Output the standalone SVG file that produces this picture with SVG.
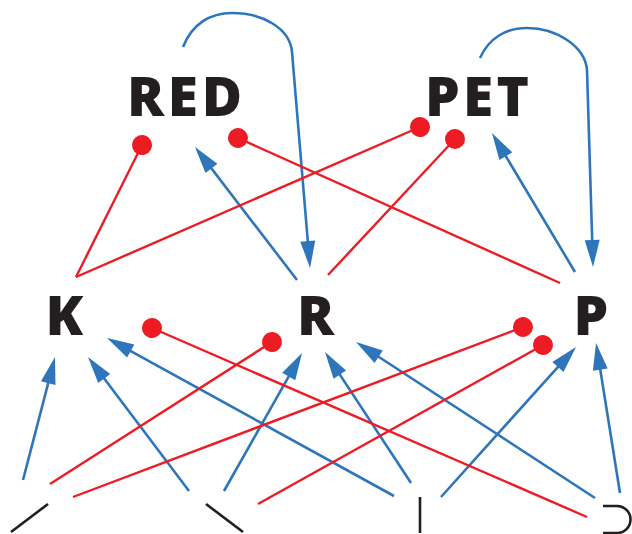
<svg xmlns="http://www.w3.org/2000/svg" width="632" height="534" viewBox="0 0 632 534">
<style>
.lbl{font-family:"Open Sans","Noto Sans","DejaVu Sans",sans-serif;font-weight:800;font-size:55px;fill:#231f20;text-anchor:middle}
.act{fill:none;stroke:#2e75bb;stroke-width:2.6;marker-end:url(#arr)}
.inh{fill:none;stroke:#ed1c24;stroke-width:2.4;marker-end:url(#dot)}
.gly{fill:none;stroke:#231f20;stroke-width:2.6}
</style>
<defs>
<marker id="arr" markerUnits="userSpaceOnUse" markerWidth="30" markerHeight="18" refX="17" refY="7.5" orient="auto" overflow="visible">
<path d="M0,0 L27,7.5 L0,15 Z" fill="#2e75bb"/>
</marker>
<marker id="dot" markerUnits="userSpaceOnUse" markerWidth="22" markerHeight="22" refX="11" refY="11" orient="auto" overflow="visible">
<circle cx="11" cy="11" r="10" fill="#ed1c24"/>
</marker>
</defs>
<g id="connectors">
<path class="act" d="M183,47 C192,24 210,13 232,13 C262,13 290,28 292,52 L309.2,258"/>
<path class="act" d="M480,58 C489,38 506,28 527,28 C556,28 585,46 587,70 L592.7,257"/>
<path class="act" d="M297,280 L201.1,154.9"/>
<path class="act" d="M575,272 L497.1,141.6"/>
<path class="inh" d="M76,277 L142,145"/>
<path class="inh" d="M76,277 L420,127"/>
<path class="inh" d="M560,283 L238,138"/>
<path class="inh" d="M328,275 L455,139"/>
<path class="act" d="M23,480 L52.5,366.7"/>
<path class="act" d="M189,491 L94,365"/>
<path class="act" d="M394,496 L115.8,342.8"/>
<path class="act" d="M224,491 L297.1,361.7"/>
<path class="act" d="M411,483 L330.5,360.4"/>
<path class="act" d="M595,498 L364.4,347.5"/>
<path class="act" d="M441,497 L569.3,354.4"/>
<path class="act" d="M620,493 L597.6,352.9"/>
<path class="inh" d="M587,517 L152,328"/>
<path class="inh" d="M50,484 L272,342"/>
<path class="inh" d="M73,497 L523,327"/>
<path class="inh" d="M258,504 L543,345"/>
</g>
<g id="node-RED"><text class="lbl" x="184.5" y="116" textLength="115" lengthAdjust="spacing">RED</text></g>
<g id="node-PET"><text class="lbl" x="477" y="116" textLength="104" lengthAdjust="spacing">PET</text></g>
<g id="node-K"><text class="lbl" x="64.5" y="335">K</text></g>
<g id="node-R"><text class="lbl" x="315.5" y="335">R</text></g>
<g id="node-P"><text class="lbl" x="591" y="335">P</text></g>
<g id="input-1"><path class="gly" d="M11,532 L48,504"/></g>
<g id="input-2"><path class="gly" d="M206,504 L243,532"/></g>
<g id="input-3"><path class="gly" d="M420,497 L420,533"/></g>
<g id="input-4"><path class="gly" d="M603,506 H617 A13.5,13.5 0 0 1 617,533 H603"/></g>
</svg>
